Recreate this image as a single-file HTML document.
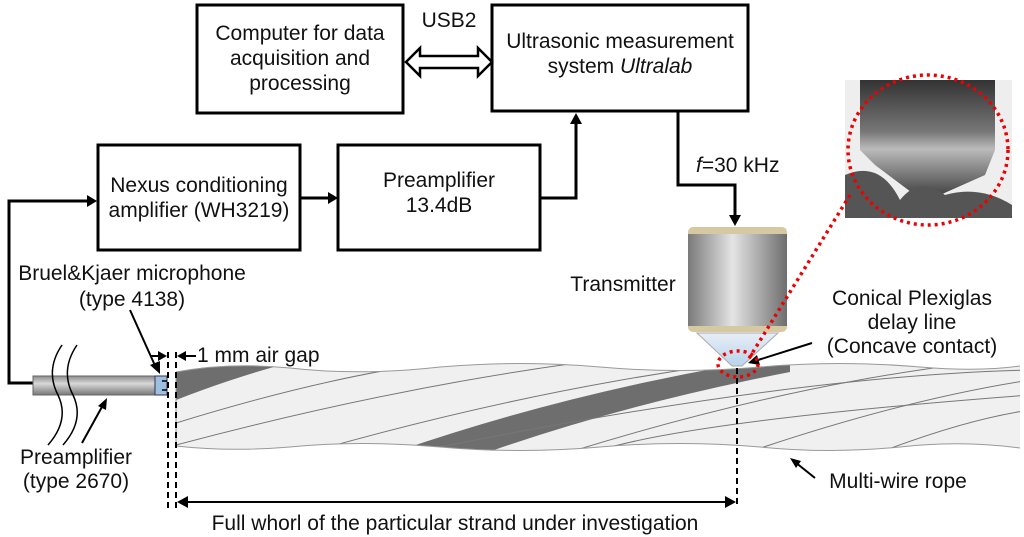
<!DOCTYPE html>
<html><head><style>
html,body{margin:0;padding:0;background:#fff;}
svg{display:block;font-family:"Liberation Sans",Arial,sans-serif;}
</style></head><body>
<svg width="1024" height="537" viewBox="0 0 1024 537" xmlns="http://www.w3.org/2000/svg">
<defs>
<linearGradient id="cyl" x1="0" x2="1" y1="0" y2="0">
<stop offset="0" stop-color="#7a7a7a"/><stop offset="0.45" stop-color="#e4e4e4"/><stop offset="1" stop-color="#6e6e6e"/>
</linearGradient>
<linearGradient id="pre" x1="0" x2="0" y1="0" y2="1">
<stop offset="0" stop-color="#8a8a8a"/><stop offset="0.4" stop-color="#d8d8d8"/><stop offset="1" stop-color="#777"/>
</linearGradient>
<linearGradient id="cone" x1="0" x2="0" y1="0" y2="1">
<stop offset="0" stop-color="#e8eef6"/><stop offset="1" stop-color="#b8d4ec"/>
</linearGradient>
<linearGradient id="photo" x1="0" x2="0" y1="0" y2="1">
<stop offset="0" stop-color="#333"/><stop offset="0.45" stop-color="#777"/><stop offset="0.6" stop-color="#bbb"/><stop offset="1" stop-color="#444"/>
</linearGradient>
<clipPath id="rope"><path d="M176,372 Q230,362 290,368 Q360,376 440,367 Q520,360 600,367 Q680,374 760,367 Q840,360 920,367 Q980,372 1020,366 L1020,448 Q960,440 900,447 Q830,454 760,447 Q680,440 600,447 Q520,454 440,447 Q360,440 290,447 Q230,452 176,446 Z"/></clipPath>
</defs>

<g fill="none" stroke="#000" stroke-width="3">
<rect x="197" y="5" width="206" height="108"/>
<rect x="492" y="5" width="256" height="106"/>
<rect x="98" y="145" width="202" height="105"/>
<rect x="338" y="145" width="202" height="105"/>
</g>
<g font-size="21" text-anchor="middle" fill="#111">
<text x="300" y="40">Computer for data</text>
<text x="300" y="65">acquisition and</text>
<text x="300" y="90">processing</text>
<text x="620" y="48">Ultrasonic measurement</text>
<text x="620" y="73">system <tspan font-style="italic">Ultralab</tspan></text>
<text x="199" y="192">Nexus conditioning</text>
<text x="199" y="217">amplifier (WH3219)</text>
<text x="439" y="187">Preamplifier</text>
<text x="439" y="212">13.4dB</text>
<text x="449" y="27">USB2</text>
<text x="132" y="280">Bruel&amp;Kjaer microphone</text>
<text x="132" y="306">(type 4138)</text>
<text x="623" y="291">Transmitter</text>
<text x="912" y="305">Conical Plexiglas</text>
<text x="912" y="329">delay line</text>
<text x="912" y="353">(Concave contact)</text>
<text x="898" y="488">Multi-wire rope</text>
<text x="76" y="464">Preamplifier</text>
<text x="76" y="488">(type 2670)</text>
<text x="455" y="530">Full whorl of the particular strand under investigation</text>
</g>
<text x="696" y="172" font-size="21" fill="#111"><tspan font-style="italic">f</tspan>=30 kHz</text>
<text x="197" y="362" font-size="21" fill="#111">1 mm air gap</text>

<path d="M406,62 L420,48 L420,56 L478,56 L478,48 L492,62 L478,76 L478,68 L420,68 L420,76 Z" fill="#fff" stroke="#000" stroke-width="2.5"/>

<g fill="none" stroke="#000" stroke-width="3">
<line x1="300" y1="198" x2="330" y2="198"/>
<polyline points="540,198 576,198 576,122"/>
<polyline points="678,111 678,185 735,185 735,217"/>
<polyline points="33,383 9,383 9,201 89,201"/>
</g>
<g fill="#000">
<path d="M338,198 L328,192 L328,204 Z"/>
<path d="M576,113 L570,124 L582,124 Z"/>
<path d="M735,226 L729,215 L741,215 Z"/>
<path d="M97,201 L87,195 L87,207 Z"/>
</g>

<g clip-path="url(#rope)">
<rect x="170" y="355" width="860" height="100" fill="#f0f0f0"/>
<path d="M170,360 L300,360 Q240,375 176,400 Z" fill="#6e6e6e"/>
<path d="M395,452 Q560,395 740,364 L790,358 L790,372 Q620,405 480,455 Z" fill="#6e6e6e"/>
<g stroke="#777" stroke-width="1" fill="none">
<path d="M176,423 Q380,360 520,355"/>
<path d="M176,445 Q420,380 640,355"/>
<path d="M300,455 Q560,380 800,355"/>
<path d="M560,455 Q800,380 1000,360"/>
<path d="M740,455 Q900,400 1030,380"/>
<path d="M860,460 Q960,420 1030,410"/>
<path d="M600,450 Q700,420 1030,395"/>
<path d="M440,447 Q800,375 1030,370"/>
</g>
</g>
<path d="M176,372 Q230,362 290,368 Q360,376 440,367 Q520,360 600,367 Q680,374 760,367 Q840,360 920,367 Q980,372 1020,366 M1020,448 Q960,440 900,447 Q830,454 760,447 Q680,440 600,447 Q520,454 440,447 Q360,440 290,447 Q230,452 176,446 L176,372" fill="none" stroke="#999" stroke-width="1"/>

<rect x="33" y="376" width="123" height="19" fill="url(#pre)" stroke="#666" stroke-width="1"/>
<rect x="155" y="376" width="12" height="19" fill="#9cc0de" stroke="#335" stroke-width="1"/>
<path d="M162,381 h5 M162,390 h5" stroke="#000" stroke-width="1.5"/>
<g fill="none" stroke="#000" stroke-width="1.5">
<path d="M62,345 Q45,370 58,395 Q70,420 48,445"/>
<path d="M77,345 Q60,370 73,395 Q85,420 63,445"/>
</g>
<g stroke="#000" stroke-width="2" stroke-dasharray="6,4">
<line x1="168" y1="352" x2="168" y2="512"/>
<line x1="176" y1="352" x2="176" y2="512"/>
<line x1="737" y1="368" x2="737" y2="508"/>
</g>
<g stroke="#000" stroke-width="2" fill="none">
<line x1="150" y1="356" x2="160" y2="356"/><line x1="186" y1="356" x2="196" y2="356"/>
<line x1="180" y1="502" x2="728" y2="502"/>
<line x1="130" y1="310" x2="157" y2="370"/>
<line x1="82" y1="443" x2="103" y2="405"/>
<line x1="812" y1="343" x2="758" y2="360"/>
<line x1="815" y1="478" x2="795" y2="462"/>
</g>
<g fill="#000">
<path d="M167,356 L158,351 L158,361 Z"/><path d="M177,356 L186,351 L186,361 Z"/>
<path d="M177,502 L188,496 L188,508 Z"/><path d="M736,502 L725,496 L725,508 Z"/>
<path d="M160,374 L150,365 L160,361 Z"/>
<path d="M107,398 L98,406 L106,410 Z"/>
<path d="M748,363 L757,355 L760,365 Z"/>
<path d="M790,458 L801,461 L796,468 Z"/>
</g>

<rect x="688" y="227" width="99" height="105" rx="5" fill="#d6c9a2"/>
<rect x="688" y="234" width="99" height="92" fill="url(#cyl)"/>
<path d="M697,333 L778,333 L742,366 L732,366 Z" fill="url(#cone)" stroke="#aaa" stroke-width="1"/>

<rect x="845" y="80" width="167" height="138" fill="#eee"/>
<path d="M860,80 L995,80 L995,150 L985,175 L940,195 L915,195 L875,165 L860,150 Z" fill="url(#photo)"/>
<path d="M845,175 Q880,160 900,200 Q920,175 945,195 Q980,185 1012,205 L1012,218 L845,218 Z" fill="#555"/>
<g fill="none" stroke="#e00" stroke-width="3.5" stroke-dasharray="3,4">
<ellipse cx="928" cy="150" rx="80" ry="75"/>
<line x1="850" y1="195" x2="748" y2="360"/>
<ellipse cx="738" cy="364" rx="20" ry="13"/>
</g>
</svg>
</body></html>
